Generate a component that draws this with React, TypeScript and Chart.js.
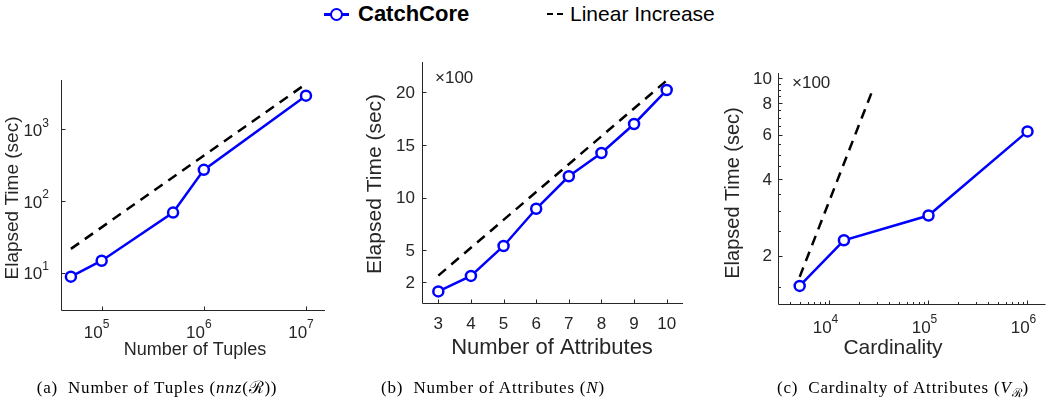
import React, { useEffect, useRef } from "react";
import { Chart, registerables } from "chart.js";

Chart.register(...registerables);

// ---------- DATA ----------
// (a) Number of tuples
const tuplesX = [5e4, 1e5, 5e5, 1e6, 1e7];
const tuplesTime = [8.8, 14.7, 69, 272, 2950];
const tuplesLinearX = [5e4, 1e7];
const tuplesLinear = [21.5, 4300];
const tuplesXTicks = [1e5, 1e6, 1e7];
const tuplesXLabels = ["10^5", "10^6", "10^7"];
const tuplesYTicks = [10, 100, 1000];
const tuplesYLabels = ["10^1", "10^2", "10^3"];

// (b) Number of attributes (values x100 sec)
const attrX = [3, 4, 5, 6, 7, 8, 9, 10];
const attrTime = [1.1, 2.57, 5.41, 8.94, 12.02, 14.23, 16.98, 20.2];
const attrLinearX = [3, 10];
const attrLinear = [2.6, 21.1];
const attrXTicks = [3, 4, 5, 6, 7, 8, 9, 10];
const attrXLabels = ["3", "4", "5", "6", "7", "8", "9", "10"];
const attrYTicks = [2, 5, 10, 15, 20];
const attrYLabels = ["2", "5", "10", "15", "20"];

// (c) Cardinality (values x100 sec)
const cardX = [5000, 14000, 1e5, 1e6];
const cardTime = [1.52, 2.3, 2.88, 6.18];
const cardLinearX = [5000, 28000];
const cardLinear = [1.65, 9.24];
const cardXTicks = [1e4, 1e5, 1e6];
const cardXLabels = ["10^4", "10^5", "10^6"];
const cardXMinor = [4000, 5000, 6000, 7000, 8000, 9000, 20000, 30000, 40000, 50000, 60000, 70000, 80000, 90000, 200000, 300000, 400000, 500000, 600000, 700000, 800000, 900000];
const cardYTicks = [2, 4, 6, 8, 10];
const cardYLabels = ["2", "4", "6", "8", "10"];
const cardYMinor = [1.5, 2.5, 3, 3.5, 4.5, 5, 5.5, 6.5, 7, 7.5, 8.5, 9, 9.5];

const seriesNames = ["CatchCore", "Linear Increase"];

// ---------- STYLE ----------
const W = 1053;
const H = 409;
const SANS = '"Liberation Sans", Arial, Helvetica, sans-serif';
const SERIF = '"Liberation Serif", "Times New Roman", serif';
const AXIS = "#262626";
const BLUE = "#0000ff";

function pts(xs: number[], ys: number[]) {
  return xs.map((x, i) => ({ x, y: ys[i] }));
}

function drawLabel(ctx: CanvasRenderingContext2D, text: string, x: number, cy: number, align: string, mainPx: number, expPx: number, rise: number) {
  const parts = text.split("^");
  const base = parts[0];
  const exp = parts[1];
  ctx.font = `${mainPx}px ${SANS}`;
  const bw = ctx.measureText(base).width;
  let ew = 0;
  if (exp) {
    ctx.font = `${expPx}px ${SANS}`;
    ew = ctx.measureText(exp).width;
  }
  const total = bw + ew;
  const x0 = align === "center" ? x - total / 2 : align === "right" ? x - total : x;
  ctx.textAlign = "left";
  ctx.textBaseline = "middle";
  ctx.font = `${mainPx}px ${SANS}`;
  ctx.fillText(base, x0, cy);
  if (exp) {
    ctx.font = `${expPx}px ${SANS}`;
    ctx.fillText(exp, x0 + bw, cy - rise);
  }
}

const matlabAxes = {
  id: "matlabAxes",
  afterDraw(chart: any, _args: any, o: any) {
    const ctx: CanvasRenderingContext2D = chart.ctx;
    const { left, right, top, bottom } = chart.chartArea;
    const xs = chart.scales.x;
    const ys = chart.scales.y;
    const L = Math.round(left) + 0.5;
    const B = Math.round(bottom) + 0.5;
    ctx.save();
    ctx.strokeStyle = AXIS;
    ctx.lineWidth = 1;
    ctx.beginPath();
    ctx.moveTo(L, top);
    ctx.lineTo(L, B);
    ctx.lineTo(right, B);
    ctx.stroke();
    // ticks (inward)
    ctx.beginPath();
    (o.xTicks || []).forEach((v: number) => {
      const px = Math.round(xs.getPixelForValue(v)) + 0.5;
      ctx.moveTo(px, B);
      ctx.lineTo(px, B - 4);
    });
    (o.xMinor || []).forEach((v: number) => {
      const px = Math.round(xs.getPixelForValue(v)) + 0.5;
      ctx.moveTo(px, B);
      ctx.lineTo(px, B - 2.5);
    });
    (o.yTicks || []).forEach((v: number) => {
      const py = Math.round(ys.getPixelForValue(v)) + 0.5;
      ctx.moveTo(L, py);
      ctx.lineTo(L + 4, py);
    });
    (o.yMinor || []).forEach((v: number) => {
      const py = Math.round(ys.getPixelForValue(v)) + 0.5;
      ctx.moveTo(L, py);
      ctx.lineTo(L + 2.5, py);
    });
    ctx.stroke();
    // tick labels
    ctx.fillStyle = AXIS;
    (o.xTicks || []).forEach((v: number, i: number) => {
      drawLabel(ctx, o.xLabels[i], xs.getPixelForValue(v) + o.xShift, o.xLabelY, "center", o.tickPx, o.expPx, o.rise);
    });
    (o.yTicks || []).forEach((v: number, i: number) => {
      drawLabel(ctx, o.yLabels[i], o.yLabelRight, ys.getPixelForValue(v) + o.yShift, "right", o.tickPx, o.expPx, o.rise);
    });
    // axis titles
    ctx.font = `${o.xTitlePx}px ${SANS}`;
    ctx.textAlign = "center";
    ctx.textBaseline = "middle";
    ctx.fillText(o.xTitle, o.xTitleX, o.xTitleY);
    ctx.save();
    ctx.translate(o.yTitleX, o.yTitleY);
    ctx.rotate(-Math.PI / 2);
    ctx.font = `${o.yTitlePx}px ${SANS}`;
    ctx.fillText(o.yTitle, 0, 0);
    ctx.restore();
    if (o.note) {
      ctx.font = `${o.notePx}px ${SANS}`;
      ctx.textAlign = "left";
      ctx.fillText(o.note, o.noteX, o.noteY);
    }
    ctx.restore();
  },
};

function makeChart(canvas: HTMLCanvasElement, p: any) {
  return new Chart(canvas, {
    type: "line",
    data: {
      datasets: [
        {
          label: seriesNames[0],
          data: pts(p.x, p.y),
          borderColor: BLUE,
          borderWidth: 2.5,
          pointStyle: "circle",
          pointRadius: 5,
          pointBorderWidth: 2.5,
          pointBorderColor: BLUE,
          pointBackgroundColor: "#ffffff",
          fill: false,
          tension: 0,
          clip: false,
        } as any,
        {
          label: seriesNames[1],
          data: pts(p.lx, p.ly),
          borderColor: "#000000",
          borderWidth: 2.5,
          borderDash: [10, 7],
          pointRadius: 0,
          fill: false,
          tension: 0,
          clip: false,
        } as any,
      ],
    },
    options: {
      responsive: false,
      animation: false,
      events: [],
      layout: {
        padding: { left: p.area.left, top: p.area.top, right: W - p.area.right, bottom: H - p.area.bottom },
      },
      scales: {
        x: { type: p.xType, min: p.xMin, max: p.xMax, display: false },
        y: { type: p.yType, min: p.yMin, max: p.yMax, display: false },
      },
      plugins: {
        legend: { display: false },
        tooltip: { enabled: false },
        matlabAxes: p.axes,
      } as any,
    },
    plugins: [matlabAxes],
  });
}

export default function App() {
  const ra = useRef<HTMLCanvasElement>(null);
  const rb = useRef<HTMLCanvasElement>(null);
  const rc = useRef<HTMLCanvasElement>(null);

  useEffect(() => {
    const charts: Chart[] = [];
    charts.push(
      makeChart(ra.current!, {
        x: tuplesX, y: tuplesTime, lx: tuplesLinearX, ly: tuplesLinear,
        area: { left: 61, top: 80, right: 325, bottom: 310 },
        xType: "logarithmic", xMin: 40000, xMax: 1.535e7,
        yType: "logarithmic", yMin: 3.02, yMax: 4875,
        axes: {
          xTicks: tuplesXTicks, xLabels: tuplesXLabels, yTicks: tuplesYTicks, yLabels: tuplesYLabels,
          tickPx: 17, expPx: 12, rise: 8,
          xLabelY: 333, xShift: -5, yLabelRight: 49, yShift: 2,
          xTitle: "Number of Tuples", xTitlePx: 18, xTitleX: 195, xTitleY: 350,
          yTitle: "Elapsed Time (sec)", yTitlePx: 19, yTitleX: 13, yTitleY: 198,
        },
      })
    );
    charts.push(
      makeChart(rb.current!, {
        x: attrX, y: attrTime, lx: attrLinearX, ly: attrLinear,
        area: { left: 422, top: 62, right: 683, bottom: 303 },
        xType: "linear", xMin: 2.5, xMax: 10.5,
        yType: "linear", yMin: 0, yMax: 22.86,
        axes: {
          xTicks: attrXTicks, xLabels: attrXLabels, yTicks: attrYTicks, yLabels: attrYLabels,
          tickPx: 17, expPx: 12, rise: 8,
          xLabelY: 324, xShift: 0, yLabelRight: 415, yShift: 1,
          xTitle: "Number of Attributes", xTitlePx: 22, xTitleX: 552, xTitleY: 348,
          yTitle: "Elapsed Time (sec)", yTitlePx: 21, yTitleX: 375, yTitleY: 184,
          note: "\u00d7100", notePx: 17, noteX: 435, noteY: 78,
        },
      })
    );
    charts.push(
      makeChart(rc.current!, {
        x: cardX, y: cardTime, lx: cardLinearX, ly: cardLinear,
        area: { left: 778, top: 73, right: 1046, bottom: 304 },
        xType: "logarithmic", xMin: 3020, xMax: 1.52e6,
        yType: "logarithmic", yMin: 1.29, yMax: 10.5,
        axes: {
          xTicks: cardXTicks, xLabels: cardXLabels, yTicks: cardYTicks, yLabels: cardYLabels,
          xMinor: cardXMinor, yMinor: cardYMinor,
          tickPx: 17, expPx: 12, rise: 8,
          xLabelY: 328, xShift: -4, yLabelRight: 772, yShift: 1,
          xTitle: "Cardinality", xTitlePx: 21, xTitleX: 893, xTitleY: 348,
          yTitle: "Elapsed Time (sec)", yTitlePx: 20, yTitleX: 733, yTitleY: 193,
          note: "\u00d7100", notePx: 17, noteX: 792, noteY: 83,
        },
      })
    );
    return () => charts.forEach((c) => c.destroy());
  }, []);

  const canvasStyle: React.CSSProperties = { position: "absolute", left: 0, top: 0, width: W, height: H };
  const capStyle = (cx: number): React.CSSProperties => ({
    position: "absolute", left: cx - 200, width: 400, top: 376, textAlign: "center",
    fontFamily: SERIF, fontSize: 17, letterSpacing: "0.8px", lineHeight: "24px", color: "#000", whiteSpace: "nowrap",
  });

  return (
    <div style={{ position: "fixed", left: 0, top: 0, width: W, height: H, background: "#fff", overflow: "hidden" }}>
      {/* legend */}
      <div style={{ position: "absolute", left: 324, top: 13, width: 25, height: 3, background: BLUE }} />
      <div style={{ position: "absolute", left: 330, top: 8, width: 9, height: 9, border: `2.5px solid ${BLUE}`, borderRadius: "50%", background: "#fff" }} />
      <div style={{ position: "absolute", left: 358, top: 2, lineHeight: "24px", fontFamily: SANS, fontSize: 22, fontWeight: "bold", color: "#000" }}>{seriesNames[0]}</div>
      <div style={{ position: "absolute", left: 547, top: 13, width: 6, height: 2, background: "#000" }} />
      <div style={{ position: "absolute", left: 557, top: 13, width: 6, height: 2, background: "#000" }} />
      <div style={{ position: "absolute", left: 570, top: 2, lineHeight: "24px", fontFamily: SANS, fontSize: 21, color: "#000" }}>{seriesNames[1]}</div>

      <canvas ref={ra} width={W} height={H} style={canvasStyle} />
      <canvas ref={rb} width={W} height={H} style={canvasStyle} />
      <canvas ref={rc} width={W} height={H} style={canvasStyle} />

      {/* captions */}
      <div style={capStyle(157)}>(a)&nbsp; Number of Tuples (<i>nnz</i>(ℛ))</div>
      <div style={capStyle(493)}>(b)&nbsp; Number of Attributes (<i>N</i>)</div>
      <div style={capStyle(903)}>(c)&nbsp; Cardinalty of Attributes (<i>V</i><sub style={{ fontSize: 12 }}>ℛ</sub>)</div>
    </div>
  );
}
